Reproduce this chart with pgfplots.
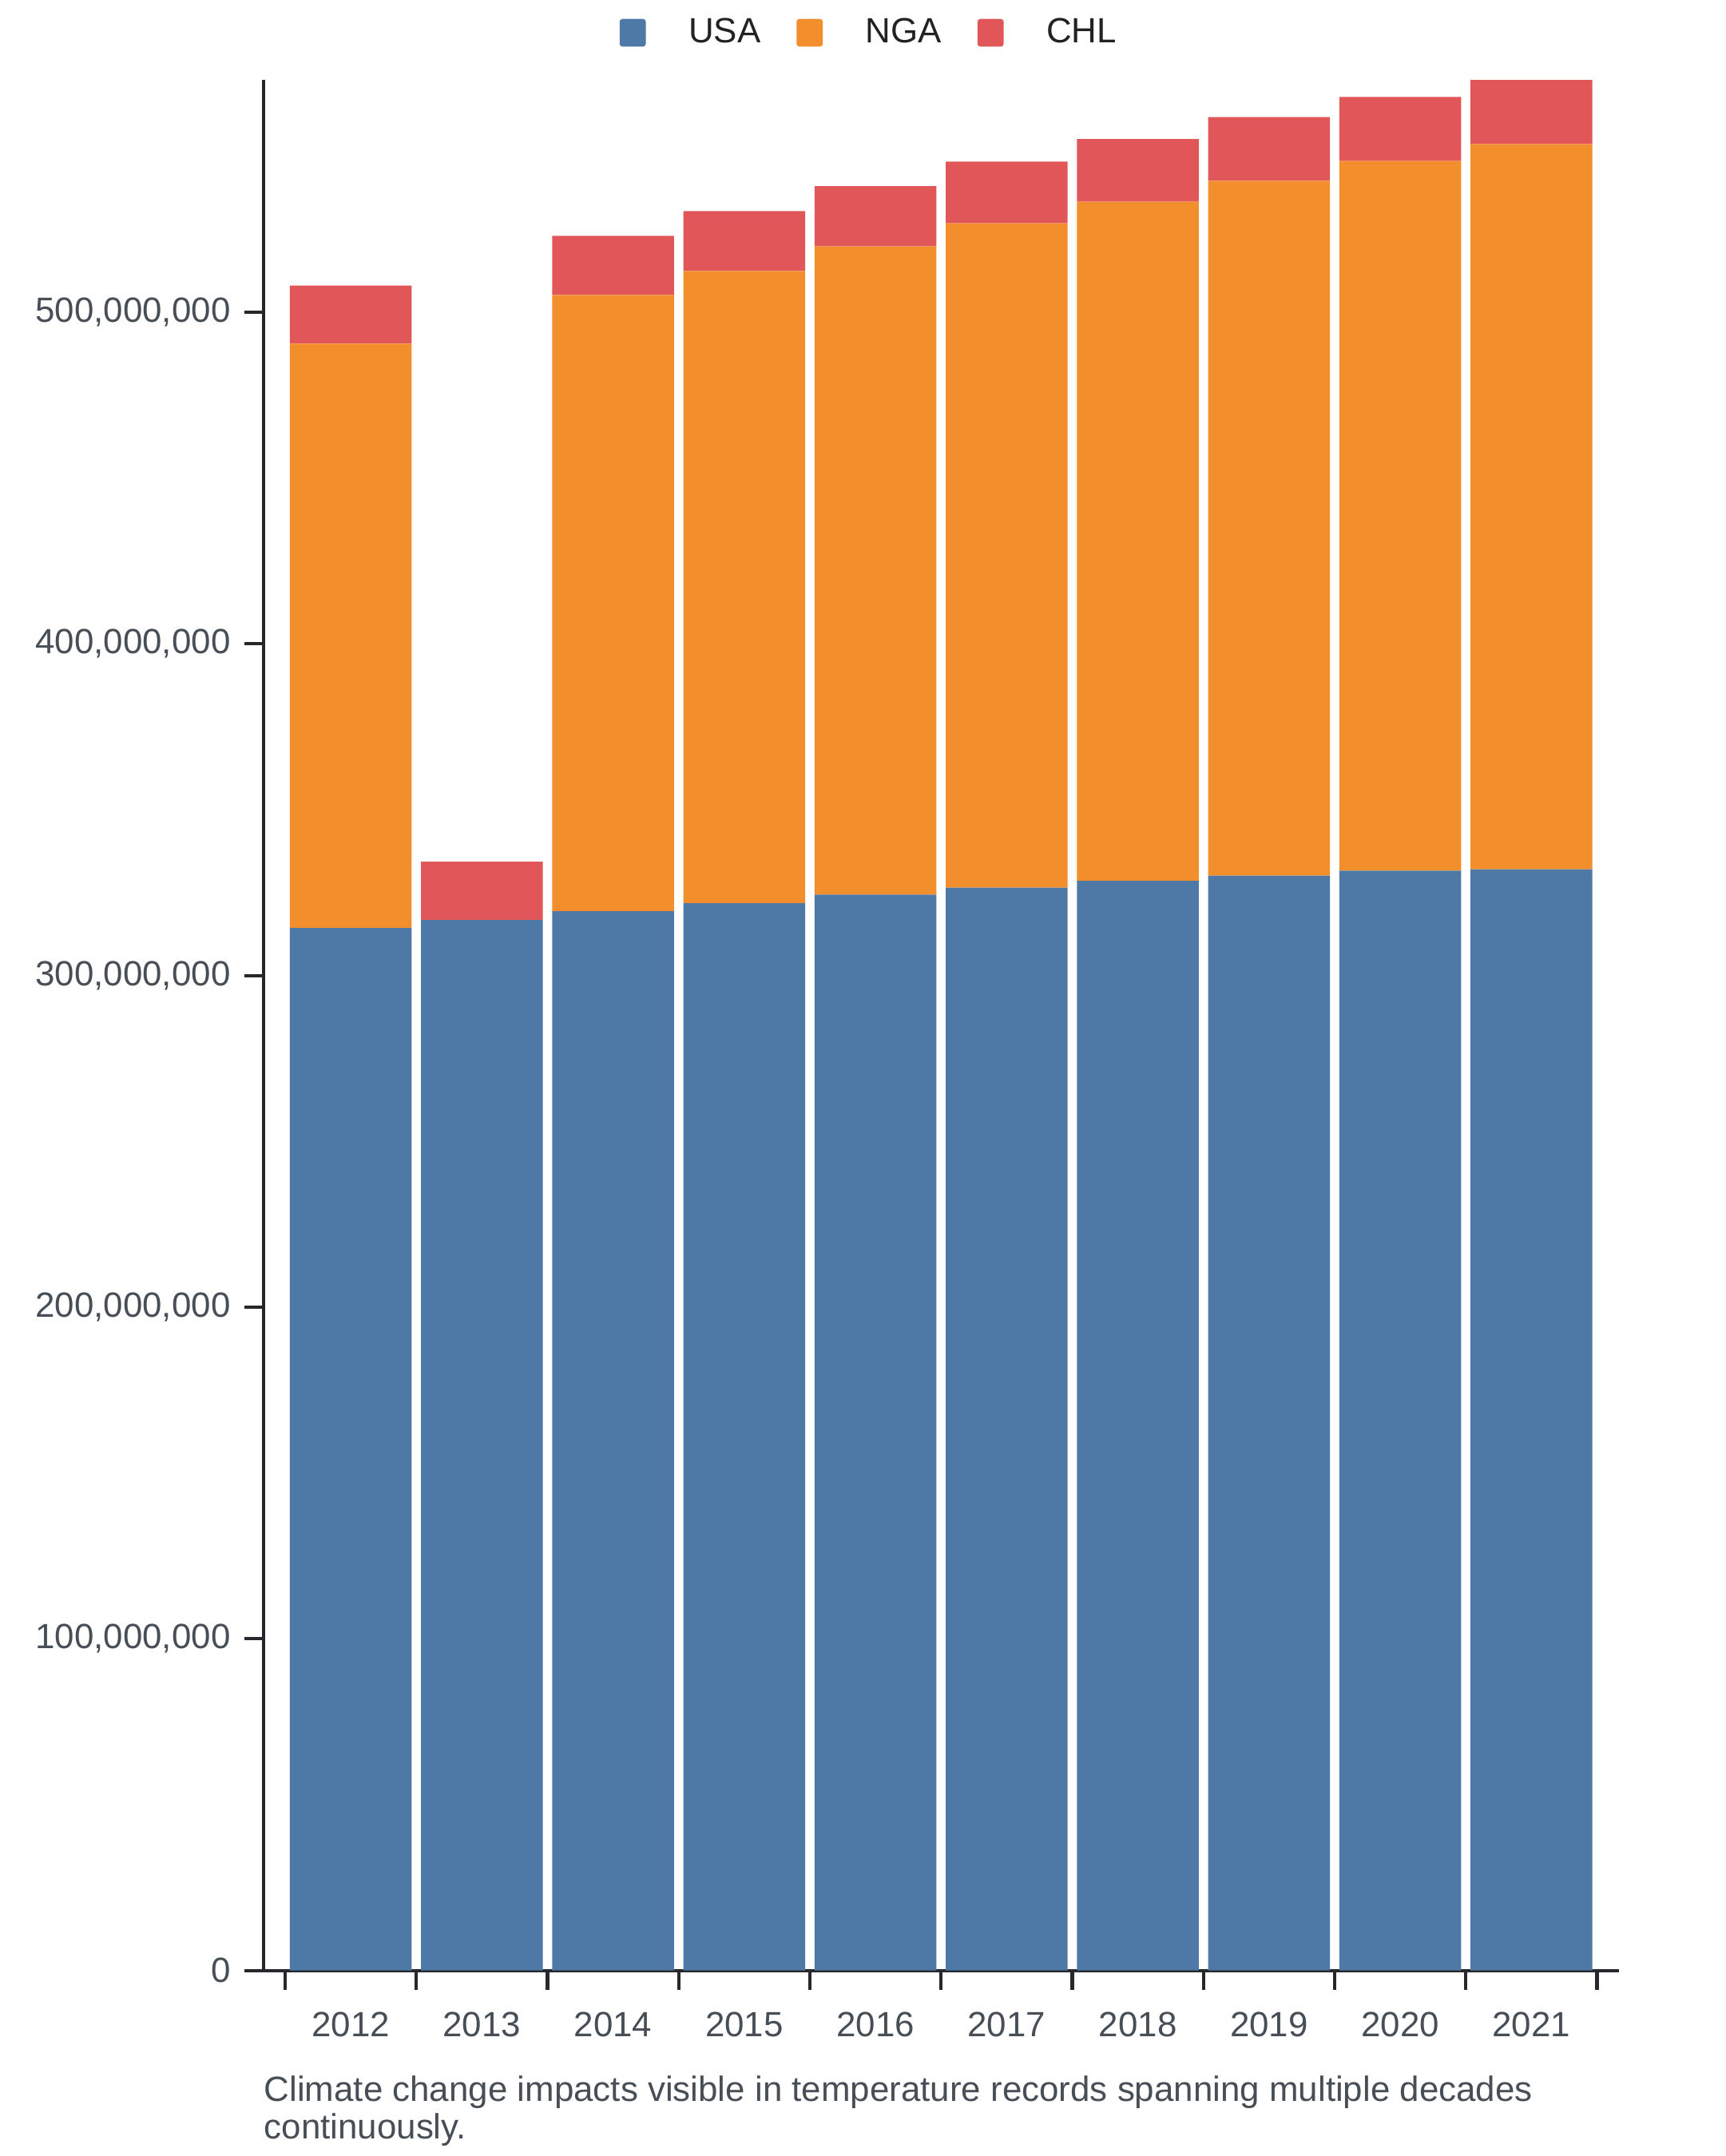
\documentclass[border=0pt]{standalone}
\usepackage{fontspec}
\setmainfont{Liberation Sans}
\usepackage{pgfplots}
\pgfplotsset{compat=1.18}
\usepackage{pgfplotstable}
\definecolor{cusa}{HTML}{4E79A7}
\definecolor{cnga}{HTML}{F28E2B}
\definecolor{cchl}{HTML}{E15759}
\definecolor{tickc}{HTML}{474E56}
\definecolor{axc}{HTML}{26282C}
\definecolor{legc}{HTML}{222222}

\pgfplotstableread{
x year usa nga chl
0 2012 314.3 176.2 17.5
1 2013 316.7 0 17.6
2 2014 319.4 185.8 17.8
3 2015 321.8 190.6 18.1
4 2016 324.4 195.4 18.2
5 2017 326.5 200.3 18.6
6 2018 328.5 204.8 18.9
7 2019 330.1 209.5 19.2
8 2020 331.6 214.0 19.3
9 2021 332.0 218.7 19.3
}\datatable

\pgfplotsset{
  mylegend/.style={legend image code/.code={%
    \fill[##1, draw=none, rounded corners=1pt] (0pt,-5pt) rectangle (9.5pt,5pt);
    \path[draw=none, fill=none] (0pt,0pt) rectangle (25pt,0.1pt);}},
}

\begin{document}
\begin{tikzpicture}
\begin{axis}[
  at={(0pt,0pt)}, anchor=south west,
  width=491pt, height=685pt, scale only axis,
  ybar stacked, bar width=0.928,
  xmin=-0.664, xmax=9.667, ymin=0, ymax=570,
  axis x line*=bottom, axis y line*=left,
  axis line style={line width=1.2pt, color=axc},
  tick style={line width=1.2pt, color=axc},
  major tick length=7pt,
  tick align=outside,
  xtick={-0.5,0.5,...,9.5},
  xticklabels={2012,2013,2014,2015,2016,2017,2018,2019,2020,2021,{}},
  xticklabel style={xshift=23.76pt, yshift=-4.5pt, font=\fontsize{12.7}{15}\selectfont, text=tickc},
  ytick={0,100,200,300,400,500},
  yticklabels={0,{100,000,000},{200,000,000},{300,000,000},{400,000,000},{500,000,000}},
  yticklabel style={xshift=-1.5pt, font=\fontsize{12.7}{15}\selectfont, text=tickc},
  legend columns=3,
  legend style={draw=none, fill=none, at={(rel axis cs:0.446,1.025)}, anchor=center,
    font=\fontsize{12.7}{15}\selectfont, text=legc,
    nodes={inner sep=0pt},
    /tikz/every even column/.append style={column sep=13pt}},
  clip=false,
]
\addplot[fill=cusa, draw=none, mylegend] table[x=x, y=usa]{\datatable};
\addplot[fill=cnga, draw=none, mylegend] table[x=x, y=nga]{\datatable};
\addplot[fill=cchl, draw=none, mylegend] table[x=x, y=chl]{\datatable};
\legend{USA,NGA,CHL}
\end{axis}
\node[anchor=base west, inner sep=0pt, align=left, font=\fontsize{12.7}{13.5}\selectfont, text=tickc] at (0pt,-61pt) {Climate change impacts visible in temperature records spanning multiple decades\\continuously.};
\path (-95.5pt,-67.25pt) rectangle (529.5pt,714pt);
\end{tikzpicture}
\end{document}
